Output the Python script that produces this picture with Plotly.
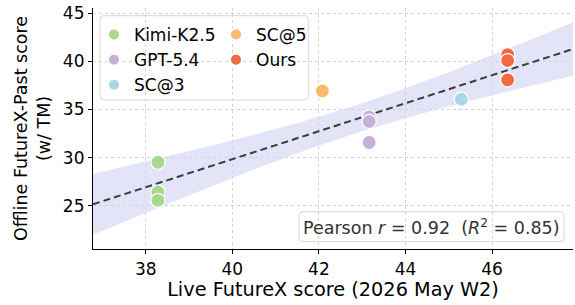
import numpy as np
import plotly.graph_objects as go

# ---- data ----
series_names = ["Kimi-K2.5", "GPT-5.4", "SC@3", "SC@5", "Ours"]
kimi_x = [38.28, 38.28, 38.28]
kimi_y = [29.53, 26.45, 25.59]
gpt_x = [43.16, 43.16, 43.16]
gpt_y = [34.24, 33.76, 31.58]
sc3_x = [45.29]
sc3_y = [36.07]
sc5_x = [42.08]
sc5_y = [36.92]
ours_x = [46.36, 46.36, 46.36]
ours_y = [40.69, 40.07, 38.06]
colors = {"Kimi-K2.5": "#a6d98b", "GPT-5.4": "#c6afd8", "SC@3": "#a7d8e8",
          "SC@5": "#fdb86a", "Ours": "#f26a41"}
x_ticks = [38, 40, 42, 44, 46]
y_ticks = [25, 30, 35, 40, 45]
x_range = [36.78, 47.87]
y_range = [20.54, 45.52]

data = {"Kimi-K2.5": (kimi_x, kimi_y), "GPT-5.4": (gpt_x, gpt_y), "SC@3": (sc3_x, sc3_y),
        "SC@5": (sc5_x, sc5_y), "Ours": (ours_x, ours_y)}

# ---- regression with 95% CI ----
X = np.array(kimi_x + gpt_x + sc3_x + sc5_x + ours_x)
Y = np.array(kimi_y + gpt_y + sc3_y + sc5_y + ours_y)
n = len(X)
b1, b0 = np.polyfit(X, Y, 1)
res = Y - (b0 + b1 * X)
s = np.sqrt(np.sum(res ** 2) / (n - 2))
xbar = X.mean()
sxx = np.sum((X - xbar) ** 2)
t_crit = 2.262  # t(0.975, df=9)
xs = np.linspace(x_range[0], x_range[1], 100)
ys = b0 + b1 * xs
se = s * np.sqrt(1 / n + (xs - xbar) ** 2 / sxx)
lo, hi = ys - t_crit * se, ys + t_crit * se
r = np.corrcoef(X, Y)[0, 1]

fig = go.Figure()
fig.add_trace(go.Scatter(x=np.concatenate([xs, xs[::-1]]), y=np.concatenate([hi, lo[::-1]]),
                         fill="toself", fillcolor="rgba(212,212,245,0.62)", line=dict(width=0),
                         showlegend=False, hoverinfo="skip"))
fig.add_trace(go.Scatter(x=xs, y=ys, mode="lines", line=dict(color="#3c3c3c", width=2, dash="7px,4px"),
                         showlegend=False))

legend_of = {"Kimi-K2.5": "legend", "GPT-5.4": "legend", "SC@3": "legend",
             "SC@5": "legend2", "Ours": "legend2"}
for name in series_names:
    xv, yv = data[name]
    fig.add_trace(go.Scatter(x=xv, y=yv, mode="markers", name=name, legend=legend_of[name],
                             marker=dict(size=14, color=colors[name],
                                         line=dict(color="white", width=1.2))))

font = "DejaVu Sans"
W, H = 575, 305
ml, mr, mt, mb = 93, 2, 8, 56
pw, ph = W - ml - mr, H - mt - mb


def px(xp):
    return (xp - ml) / pw


def py(yp):
    return (H - mb - yp) / ph


def rrect(x0, y0, x1, y1, rad):
    rx, ry = rad / pw, rad / ph
    X0, X1, Y0, Y1 = px(x0), px(x1), py(y1), py(y0)
    return (f"M {X0+rx} {Y0} L {X1-rx} {Y0} Q {X1} {Y0} {X1} {Y0+ry} L {X1} {Y1-ry} "
            f"Q {X1} {Y1} {X1-rx} {Y1} L {X0+rx} {Y1} Q {X0} {Y1} {X0} {Y1-ry} "
            f"L {X0} {Y0+ry} Q {X0} {Y0} {X0+rx} {Y0} Z")


fig.add_shape(type="path", xref="paper", yref="paper", path=rrect(100, 15.7, 308.3, 100, 4),
              fillcolor="white", line=dict(color="#d6d6d6", width=1), layer="between")
fig.add_shape(type="path", xref="paper", yref="paper", path=rrect(299, 211.7, 564, 241.7, 4),
              fillcolor="white", line=dict(color="#d6d6d6", width=1), layer="between")

fig.add_annotation(xref="paper", yref="paper", x=px(431.5), y=py(226.7), xanchor="center", yanchor="middle",
                   text=f"Pearson <i>r</i> = {r:.2f}&nbsp;&nbsp;(<i>R</i><sup>2</sup> = {r**2:.2f})",
                   showarrow=False, font=dict(family=font, size=17.5, color="#333333"))

axis_common = dict(showline=True, linecolor="black", linewidth=1.2, ticks="outside", ticklen=4,
                   tickcolor="black", tickwidth=1.2, showgrid=True, gridcolor="#d3d3d3",
                   griddash="dot", gridwidth=0.8, zeroline=False, mirror=False,
                   tickfont=dict(family=font, size=17, color="black"))

fig.update_layout(
    width=W, height=H, margin=dict(l=ml, r=mr, t=mt, b=mb),
    plot_bgcolor="white", paper_bgcolor="white",
    font=dict(family=font, color="black"),
    xaxis=dict(range=x_range, tickvals=x_ticks, **axis_common,
               title=dict(text="Live FutureX score (2026 May W2)", font=dict(family=font, size=19.3), standoff=3)),
    yaxis=dict(range=y_range, tickvals=y_ticks, **axis_common,
               title=dict(text="Offline FutureX-Past score<br>(w/ TM)", font=dict(family=font, size=17.5), standoff=7)),
    legend=dict(x=px(94), y=py(17), xanchor="left", yanchor="top", bgcolor="rgba(0,0,0,0)",
                font=dict(family=font, size=17), itemsizing="constant", tracegroupgap=0),
    legend2=dict(x=px(216), y=py(17), xanchor="left", yanchor="top", bgcolor="rgba(0,0,0,0)",
                 font=dict(family=font, size=17), itemsizing="constant", tracegroupgap=0),
    showlegend=True,
)

fig.write_html("out.html", config={"displayModeBar": False},
               post_script="document.body.style.margin='0';")
